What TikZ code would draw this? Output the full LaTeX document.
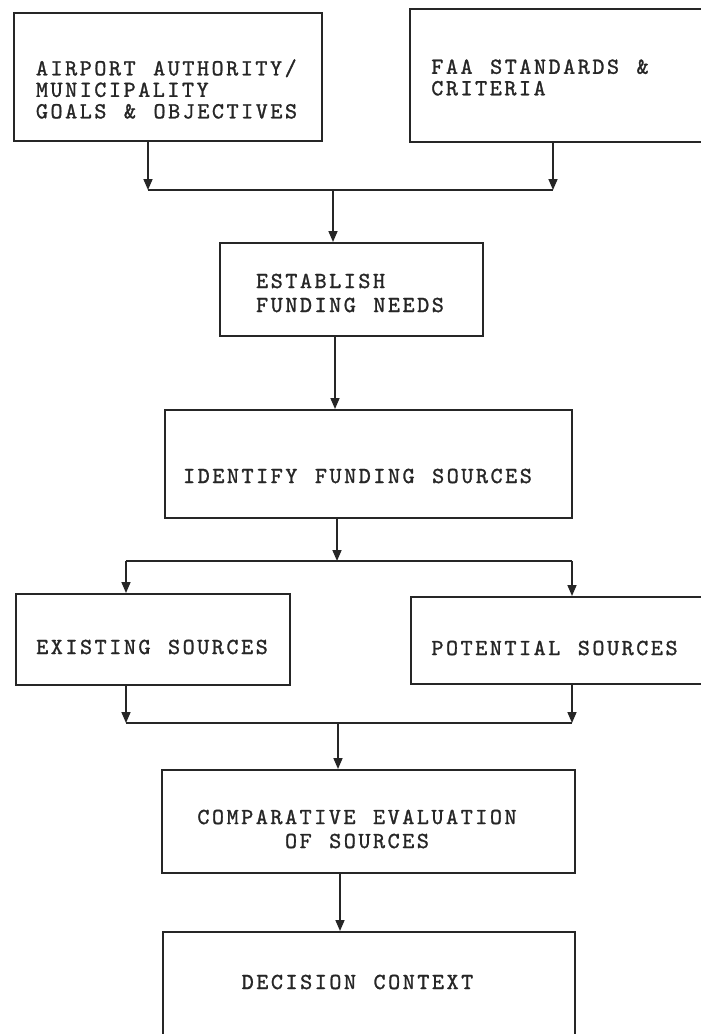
\documentclass[tikz,border=0pt]{standalone}
\usepackage{fontspec}
\setmonofont{lmmono10-regular.otf}[LetterSpace=11, WordSpace=1.2, FakeBold=1.2]
\usetikzlibrary{arrows.meta}
\definecolor{ink}{HTML}{262626}
\tikzstyle{arrow} = [ink, line width=1.6pt, -{Triangle[length=11pt,width=9pt]}]
\tikzstyle{link} = [ink, line width=1.6pt]
\tikzstyle{box} = [draw=ink, line width=2pt, rectangle, inner sep=0pt]
\tikzstyle{txt} = [inner sep=0pt, text=ink, font=\ttfamily\fontsize{23}{24}\selectfont]

\begin{document}
\begin{tikzpicture}[x=1pt, y=-1pt]
    \useasboundingbox (0,0) rectangle (701,1034);
    \fill [white] (0,0) rectangle (701,1034);

    \node (goals) [box, minimum width=308pt, minimum height=128pt] at (168,77) {};
    \node (goals-t) [txt, align=left, font=\ttfamily\fontsize{23}{21.5}\selectfont] at ([xshift=-1.5pt, yshift=-12pt]goals.center) {AIRPORT AUTHORITY/\\MUNICIPALITY\\GOALS \& OBJECTIVES};

    \node (faa) [box, minimum width=310pt, minimum height=133pt] at (565,75.5) {};
    \node (faa-t) [txt, align=left, font=\ttfamily\fontsize{23}{21.5}\selectfont] at ([xshift=-25pt, yshift=-2pt]faa.center) {FAA STANDARDS \&\\CRITERIA};

    \coordinate (j1l) at (148,190);
    \coordinate (j1r) at (553,190);
    \coordinate (j1m) at (333,190);
    \draw [arrow] (goals.south -| j1l) -- (j1l);
    \draw [arrow] (faa.south -| j1r) -- (j1r);
    \draw [link] (j1l) -- (j1r);

    \node (needs) [box, minimum width=263pt, minimum height=93pt] at (351.5,289.5) {};
    \node (needs-t) [txt, align=left] at ([xshift=-1.5pt, yshift=-3.5pt]needs.center) {ESTABLISH\\FUNDING NEEDS};
    \draw [arrow] (j1m) -- (j1m |- needs.north);

    \node (idsrc) [box, minimum width=407pt, minimum height=108pt] at (368.5,464) {};
    \node (idsrc-t) [txt] at ([xshift=-11pt, yshift=-12pt]idsrc.center) {IDENTIFY FUNDING SOURCES};
    \draw [arrow] ([xshift=-16.5pt]needs.south) -- ([xshift=-16.5pt]needs.south |- idsrc.north);

    \coordinate (j2l) at (126,561);
    \coordinate (j2r) at (572,561);
    \coordinate (j2m) at (337,561);
    \draw [arrow] (idsrc.south -| j2m) -- (j2m);
    \draw [link] (j2l) -- (j2r);

    \node (exist) [box, minimum width=274pt, minimum height=91pt] at (153,639.5) {};
    \node (exist-t) [txt] at ([xshift=-1pt, yshift=-7.5pt]exist.center) {EXISTING SOURCES};
    \node (potent) [box, minimum width=309pt, minimum height=87pt] at (565.5,640.5) {};
    \node (potent-t) [txt] at ([xshift=-11pt, yshift=-7.5pt]potent.center) {POTENTIAL SOURCES};
    \draw [arrow] (j2l) -- (j2l |- exist.north);
    \draw [arrow] (j2r) -- (j2r |- potent.north);

    \coordinate (j3l) at (126,723);
    \coordinate (j3r) at (572,723);
    \coordinate (j3m) at (338,723);
    \draw [arrow] (exist.south -| j3l) -- (j3l);
    \draw [arrow] (potent.south -| j3r) -- (j3r);
    \draw [link] (j3l) -- (j3r);

    \node (compare) [box, minimum width=413pt, minimum height=103pt] at (368.5,821.5) {};
    \node (compare-t) [txt, align=center] at ([xshift=-11.5pt, yshift=-7.5pt]compare.center) {COMPARATIVE EVALUATION\\OF SOURCES};
    \draw [arrow] (j3m) -- (j3m |- compare.north);

    \node (decide) [box, minimum width=412pt, minimum height=108pt] at (369,986) {};
    \node (decide-t) [txt] at ([xshift=-11.5pt, yshift=4pt]decide.center) {DECISION CONTEXT};
    \draw [arrow] ([xshift=-28.5pt]compare.south) -- ([xshift=-28.5pt]compare.south |- decide.north);
\end{tikzpicture}
\end{document}
